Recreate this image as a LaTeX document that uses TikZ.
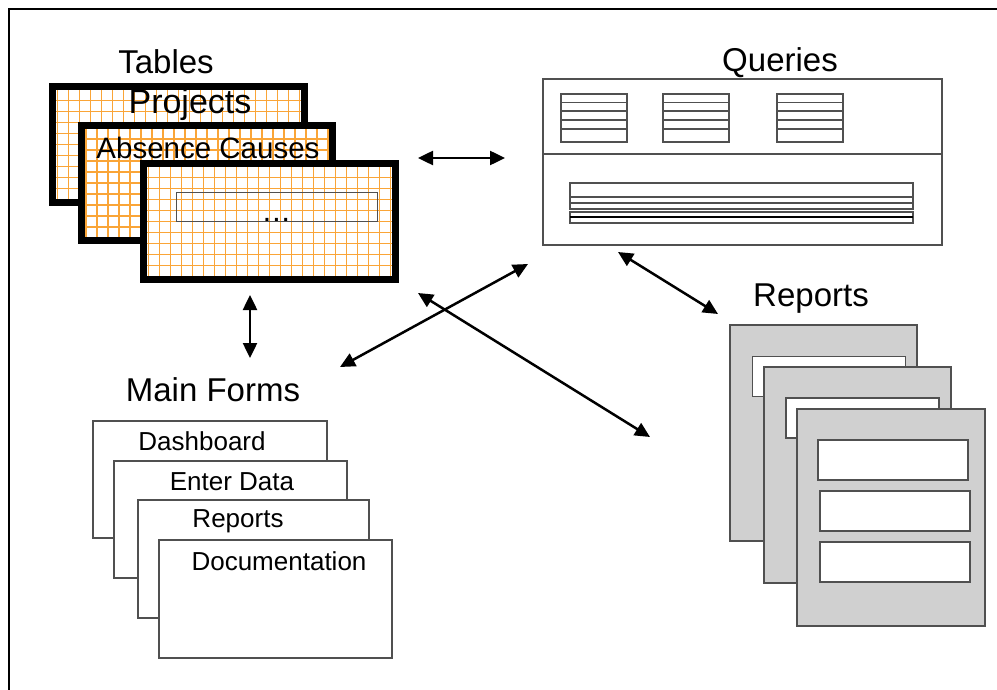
\documentclass[tikz,border=0pt]{standalone}
\usepackage{fontspec}
\setmainfont{Liberation Sans}
\usetikzlibrary{arrows.meta,positioning}

\definecolor{gridorange}{RGB}{250,165,55}
\definecolor{pagegray}{RGB}{208,208,208}
\definecolor{edgegray}{RGB}{80,80,80}

\tikzset{
  title/.style={inner sep=0pt, font=\fontsize{33}{38}\selectfont},
  tblbox/.style={draw=black, line width=6.5pt, fill=white, inner sep=0pt,
    path picture={\draw[gridorange, line width=1.4pt]
      (path picture bounding box.south west) grid[step=11pt]
      (path picture bounding box.north east);}},
  qbox/.style={draw=edgegray, line width=1.2pt, fill=white, inner sep=0pt},
  pagebox/.style={draw=edgegray, line width=1.5pt, fill=pagegray, inner sep=0pt},
  fieldbox/.style={draw=edgegray, line width=1.5pt, fill=white, inner sep=0pt},
  formbox/.style={draw=edgegray, line width=1.5pt, fill=white, inner sep=0pt},
  formtext/.style={inner sep=0pt, font=\fontsize{26}{30}\selectfont},
  link/.style={line width=2.5pt, {Triangle[length=15pt,width=14pt]}-{Triangle[length=15pt,width=14pt]}}
}

\begin{document}
\begin{tikzpicture}[x=1pt, y=-1pt]
	\useasboundingbox (0,0) rectangle (997,690);
	% Frame
	\draw [line width=2.8pt] (9,690) -- (9,9) -- (997,9);

	% Tables
	\node[title] (tableslbl) at (166,62) {Tables};
	\node[tblbox, minimum width=252, minimum height=116] (projects) at (178.5,144.5) {};
	\node[inner sep=0pt, font=\fontsize{34}{38}\selectfont] (projectstxt) at (190,105) {Projects};
	\node[tblbox, minimum width=251, minimum height=115] (absence) at (207,183) {};
	\node[inner sep=0pt, font=\fontsize{29.5}{33}\selectfont] (absencetxt) at (208,148) {Absence Causes};
	\node[tblbox, minimum width=252, minimum height=116] (othertbl) at (269.5,221.5) {};
	\node[draw=edgegray, line width=1pt, minimum width=201, minimum height=29, inner sep=0pt] (field) at (276.5,207.5) {};
	\node[inner sep=1pt, anchor=south, font=\fontsize{21}{24}\selectfont\bfseries] (dots) at (field.south) {.\,.\,.};

	% Queries
	\node[title] (querieslbl) at (780,63) {Queries};
	\node[qbox, minimum width=399, minimum height=166] (queries) at (742.5,162) {};
	\draw [edgegray, line width=1.2pt] (queries.west |- 0,154) -- (queries.east |- 0,154);
	\foreach \x in {561, 663, 777} {
		\draw [edgegray, line width=1.2pt] (\x,94) rectangle (\x+66,142);
		\foreach \y in {102.5, 111, 120, 129}
			\draw [edgegray, line width=1.2pt] (\x,\y) -- (\x+66,\y);
	}
	\draw [edgegray, line width=1.2pt] (570,183) rectangle (913,209);
	\draw [edgegray, line width=1.2pt] (570,197) -- (913,197);
	\draw [edgegray, line width=1.2pt] (570,203) -- (913,203);
	\draw [edgegray, line width=1.2pt] (570,212) rectangle (913,223);
	\draw [black, line width=1.8pt] (570,217) -- (913,217);

	% Reports
	\node[title] (reportslbl) at (811,299) {Reports};
	\node[pagebox, minimum width=187, minimum height=216] (page1) at (823.5,433) {};
	\node[fieldbox, minimum width=153, minimum height=40] (field1) at (829,376.5) {};
	\node[pagebox, minimum width=187, minimum height=216] (page2) at (857.5,475) {};
	\node[fieldbox, minimum width=153, minimum height=40] (field2) at (862.5,418) {};
	\node[pagebox, minimum width=188, minimum height=217] (page3) at (891,517.5) {};
	\node[fieldbox, minimum width=150, minimum height=40] (field3) at (893,460) {};
	\node[fieldbox, minimum width=150, minimum height=40] (field4) at (895,511) {};
	\node[fieldbox, minimum width=150, minimum height=40] (field5) at (895,562) {};

	% Main forms
	\node[title] (formslbl) at (213,390) {Main Forms};
	\node[formbox, minimum width=234, minimum height=117] (dashboard) at (210,479.5) {};
	\node[formtext] at (202,441) {Dashboard};
	\node[formbox, minimum width=233, minimum height=117] (enterdata) at (230.5,519.5) {};
	\node[formtext] at (232,482) {Enter Data};
	\node[formbox, minimum width=231, minimum height=118] (reportsform) at (253.5,559) {};
	\node[formtext] at (238,521) {Reports};
	\node[formbox, minimum width=233, minimum height=118] (documentation) at (275.5,599) {};
	\node[formtext] at (279,561) {Documentation};

	% Links
	\coordinate (tq1) at (418,158);
	\coordinate (tq2) at (505,158);
	\coordinate (tf1) at (250,295);
	\coordinate (tf2) at (250,358);
	\coordinate (fq1) at (340,367);
	\coordinate (fq2) at (528,264);
	\coordinate (tr1) at (418,293);
	\coordinate (tr2) at (650,437);
	\coordinate (qr1) at (618,252);
	\coordinate (qr2) at (718,314);
	\draw [link] (tq1) -- (tq2);
	\draw [link] (tf1) -- (tf2);
	\draw [link] (fq1) -- (fq2);
	\draw [link] (tr1) -- (tr2);
	\draw [link] (qr1) -- (qr2);
\end{tikzpicture}
\end{document}
